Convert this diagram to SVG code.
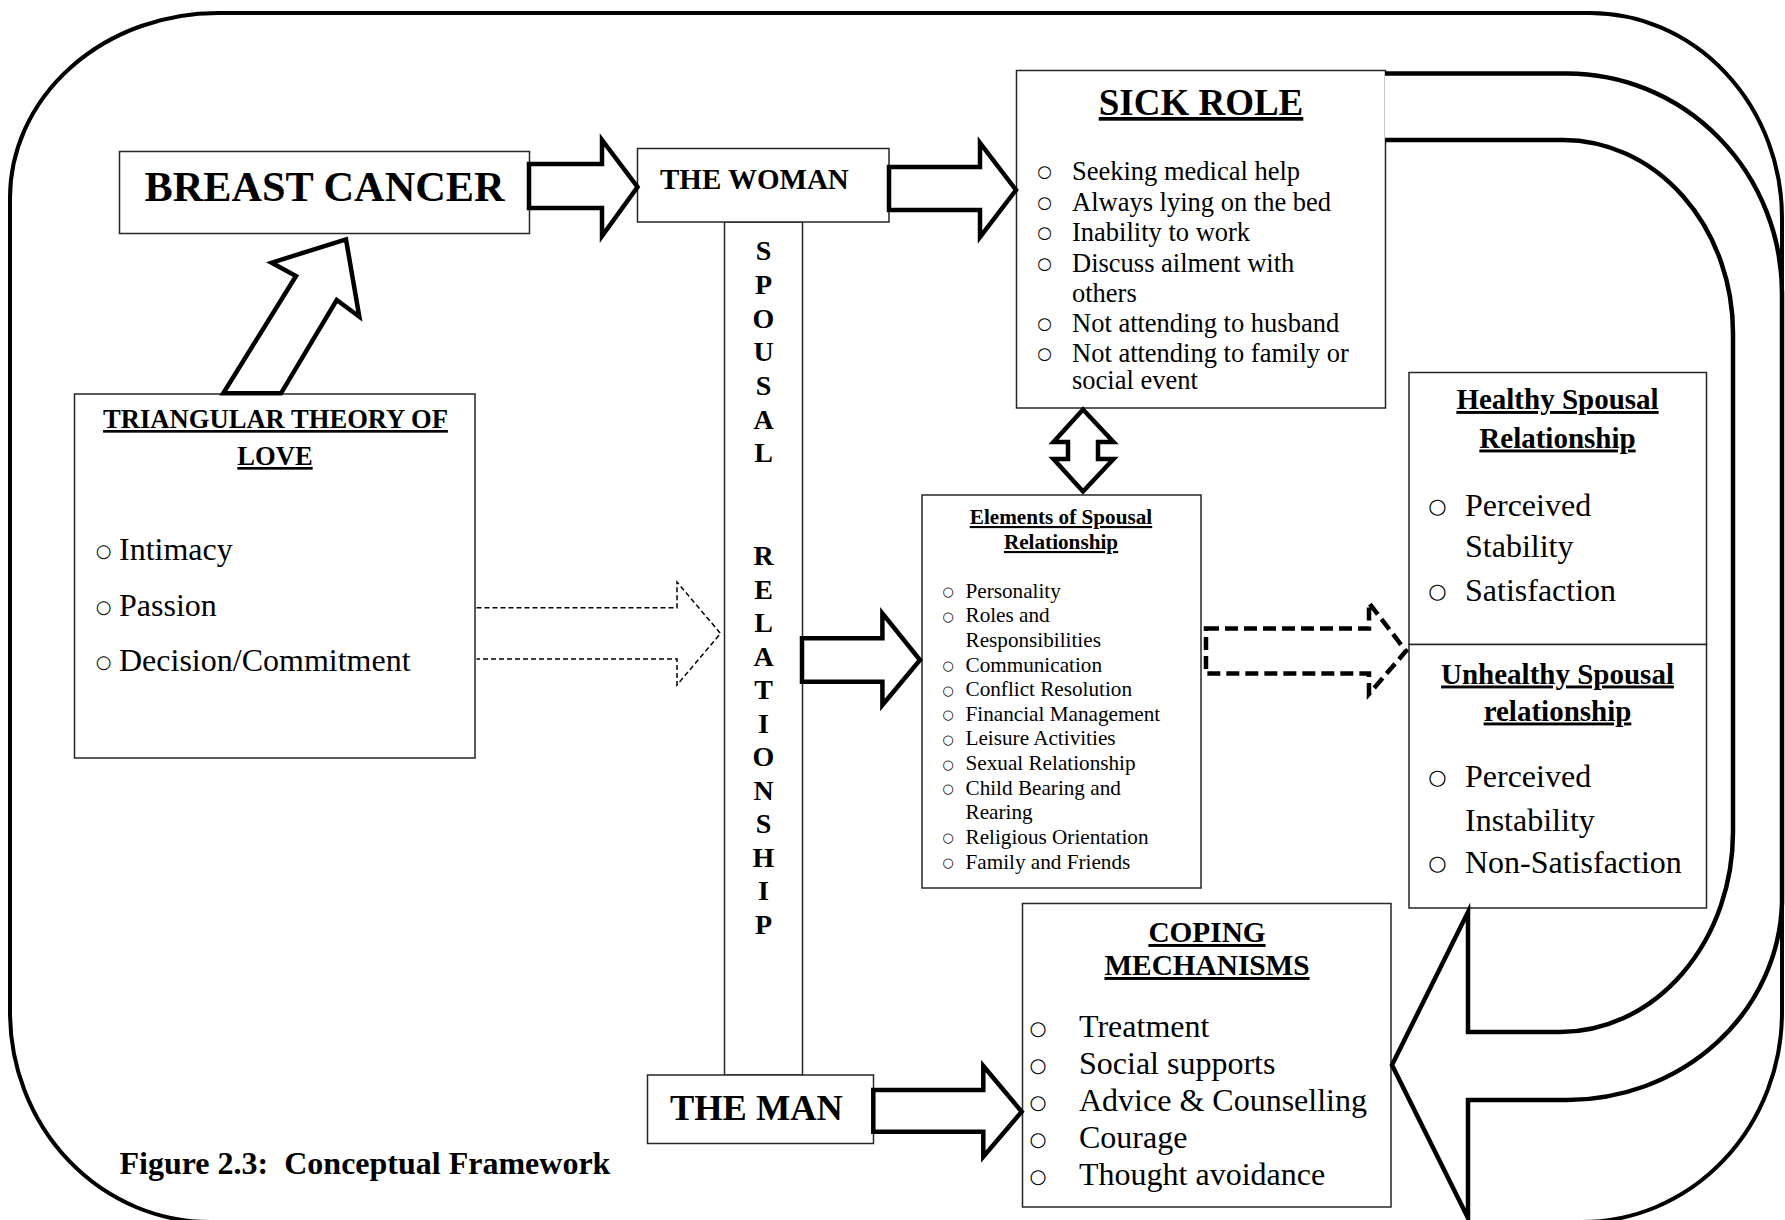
<svg xmlns="http://www.w3.org/2000/svg" width="1785" height="1220" viewBox="0 0 1785 1220">
<defs>
<style>
.t{font-family:"Liberation Serif","Times New Roman",serif;fill:#000}
.b{font-weight:bold}
.u{text-decoration:underline}
.m{text-anchor:middle}
.o{font-family:"DejaVu Sans",sans-serif;fill:#000;text-anchor:middle}
.box{fill:#fff;stroke:#262626;stroke-width:1.5}
.blk{fill:#fff;stroke:#000;stroke-width:4.5;stroke-linejoin:miter;stroke-miterlimit:10}
.frame{fill:none;stroke:#000;stroke-width:4}
.dash1{fill:none;stroke:#000;stroke-width:1.5;stroke-dasharray:5 3}
.dash2{fill:#fff;stroke:#000;stroke-width:4.5;stroke-dasharray:13 6}
</style>
</defs>
<rect width="1785" height="1220" fill="#fff"/>

<g id="frame">
<path class="frame" d="M218,13 H1590 A192,205 0 0 1 1782,218 V1012 A200,210 0 0 1 1582,1222 H210 A200,210 0 0 1 10,1012 V198 A208,185 0 0 1 218,13 Z"/>
</g>

<g id="spousal-relationship">
<rect class="box" x="724.5" y="222" width="78" height="853"/>
<g class="t b m" font-size="28">
<text x="763.5" y="260">S</text>
<text x="763.5" y="294">P</text>
<text x="763.5" y="327.5">O</text>
<text x="763.5" y="361">U</text>
<text x="763.5" y="395">S</text>
<text x="763.5" y="428.5">A</text>
<text x="763.5" y="462">L</text>
<text x="763.5" y="565">R</text>
<text x="763.5" y="598.5">E</text>
<text x="763.5" y="632">L</text>
<text x="763.5" y="665.5">A</text>
<text x="763.5" y="699">T</text>
<text x="763.5" y="732.5">I</text>
<text x="763.5" y="766">O</text>
<text x="763.5" y="799.5">N</text>
<text x="763.5" y="833">S</text>
<text x="763.5" y="866.5">H</text>
<text x="763.5" y="900">I</text>
<text x="763.5" y="934">P</text>
</g>
</g>

<g id="breast-cancer">
<rect class="box" x="119.5" y="151.5" width="410" height="82"/>
<text class="t b m" x="324.5" y="201" font-size="42.3">BREAST CANCER</text>
</g>

<g id="the-woman">
<rect class="box" x="637.5" y="148.5" width="251.5" height="73.5"/>
<text class="t b" x="660" y="189" font-size="29">THE WOMAN</text>
</g>

<g id="sick-role">
<rect class="box" x="1016.5" y="70.5" width="369" height="337.5"/>
<text class="t b u m" x="1201" y="115" font-size="37">SICK ROLE</text>
<g class="o" font-size="16.5">
<text x="1044.5" y="177">○</text>
<text x="1044.5" y="207.5">○</text>
<text x="1044.5" y="238">○</text>
<text x="1044.5" y="268.5">○</text>
<text x="1044.5" y="329">○</text>
<text x="1044.5" y="359">○</text>
</g>
<g class="t" font-size="26.5">
<text x="1072" y="180">Seeking medical help</text>
<text x="1072" y="210.5">Always lying on the bed</text>
<text x="1072" y="241">Inability to work</text>
<text x="1072" y="271.5">Discuss ailment with</text>
<text x="1072" y="302">others</text>
<text x="1072" y="332">Not attending to husband</text>
<text x="1072" y="362">Not attending to family or</text>
<text x="1072" y="388.5">social event</text>
</g>
</g>

<g id="triangular-theory">
<rect class="box" x="74.5" y="394" width="400.5" height="364"/>
<text class="t b u m" x="275.5" y="428" font-size="26.6">TRIANGULAR THEORY OF</text>
<text class="t b u m" x="275" y="465" font-size="26.6">LOVE</text>
<g class="o" font-size="18">
<text x="103.5" y="557">○</text>
<text x="103.5" y="612.5">○</text>
<text x="103.5" y="668">○</text>
</g>
<g class="t" font-size="32">
<text x="119" y="560">Intimacy</text>
<text x="119" y="615.5">Passion</text>
<text x="119" y="671">Decision/Commitment</text>
</g>
</g>

<g id="elements-of-spousal-relationship">
<rect class="box" x="922" y="495" width="279" height="393"/>
<text class="t b u m" x="1061" y="524" font-size="21.2">Elements of Spousal</text>
<text class="t b u m" x="1061" y="549" font-size="21.2">Relationship</text>
<g class="o" font-size="13">
<text x="948" y="596">○</text>
<text x="948" y="620.5">○</text>
<text x="948" y="670">○</text>
<text x="948" y="694.5">○</text>
<text x="948" y="719">○</text>
<text x="948" y="743.5">○</text>
<text x="948" y="768.5">○</text>
<text x="948" y="793">○</text>
<text x="948" y="842">○</text>
<text x="948" y="867">○</text>
</g>
<g class="t" font-size="21.2">
<text x="965.5" y="597.5">Personality</text>
<text x="965.5" y="622">Roles and</text>
<text x="965.5" y="646.5">Responsibilities</text>
<text x="965.5" y="671.5">Communication</text>
<text x="965.5" y="696">Conflict Resolution</text>
<text x="965.5" y="720.5">Financial Management</text>
<text x="965.5" y="745">Leisure Activities</text>
<text x="965.5" y="770">Sexual Relationship</text>
<text x="965.5" y="794.5">Child Bearing and</text>
<text x="965.5" y="819">Rearing</text>
<text x="965.5" y="843.5">Religious Orientation</text>
<text x="965.5" y="868.5">Family and Friends</text>
</g>
</g>

<g id="healthy-spousal-relationship">
<rect class="box" x="1409" y="372.5" width="297.5" height="272"/>
<text class="t b u m" x="1557.5" y="409" font-size="29">Healthy Spousal</text>
<text class="t b u m" x="1557.5" y="447.5" font-size="29">Relationship</text>
<g class="o" font-size="21">
<text x="1437.5" y="512.5">○</text>
<text x="1437.5" y="597.5">○</text>
</g>
<g class="t" font-size="32">
<text x="1465" y="515.5">Perceived</text>
<text x="1465" y="557">Stability</text>
<text x="1465" y="600.5">Satisfaction</text>
</g>
</g>

<g id="unhealthy-spousal-relationship">
<rect class="box" x="1409" y="644.5" width="297.5" height="263.5"/>
<text class="t b u m" x="1557.5" y="683.5" font-size="29">Unhealthy Spousal</text>
<text class="t b u m" x="1557.5" y="720.5" font-size="29">relationship</text>
<g class="o" font-size="21">
<text x="1437.5" y="784">○</text>
<text x="1437.5" y="869.5">○</text>
</g>
<g class="t" font-size="32">
<text x="1465" y="787">Perceived</text>
<text x="1465" y="831">Instability</text>
<text x="1465" y="872.5">Non-Satisfaction</text>
</g>
</g>

<g id="coping-mechanisms">
<rect class="box" x="1022.5" y="903.5" width="368.5" height="303.5"/>
<text class="t b u m" x="1207" y="942" font-size="29.3">COPING</text>
<text class="t b u m" x="1207" y="975" font-size="29.3">MECHANISMS</text>
<g class="o" font-size="19.5">
<text x="1038" y="1034.5">○</text>
<text x="1038" y="1071.5">○</text>
<text x="1038" y="1108.5">○</text>
<text x="1038" y="1145.5">○</text>
<text x="1038" y="1182.5">○</text>
</g>
<g class="t" font-size="32">
<text x="1079" y="1037">Treatment</text>
<text x="1079" y="1074">Social supports</text>
<text x="1079" y="1111">Advice &amp; Counselling</text>
<text x="1079" y="1148">Courage</text>
<text x="1079" y="1185">Thought avoidance</text>
</g>
</g>

<g id="the-man">
<rect class="box" x="647.5" y="1075" width="226" height="68.5"/>
<text class="t b" x="670" y="1120" font-size="36.4">THE MAN</text>
</g>

<text id="caption" class="t b" x="119.5" y="1174" font-size="32" xml:space="preserve">Figure 2.3:  Conceptual Framework</text>

<g id="connectors">
<polygon class="blk" points="529,164 602,164 602,140 637.5,187 602,236 602,208 529,208"/>
<polygon class="blk" points="889,167 980,167 980,143 1016,190 980,237 980,210 889,210"/>
<polygon class="blk" stroke-width="4" points="223.3,393.3 296,276 271.7,262.7 346,239.3 359.3,316.7 336.7,300 281,393.3"/>
<path class="dash1" d="M476.5,607.7 H677 V582 L720.5,633.5 L677,685 V659 H476.5"/>
<polygon class="blk" points="802,638.3 882.4,638.3 882.4,613.3 920,660 882.4,705 882.4,681.7 802,681.7"/>
<polygon class="blk" stroke-width="4" points="1083,409.5 1113.5,442 1098,442 1098,459 1113.5,459 1083,491.5 1053.5,459 1068,459 1068,442 1053.5,442"/>
<path class="dash2" d="M1206,628.6 H1369 V603 L1406,651 L1369,694 V673.6 H1206 Z"/>
<polygon class="blk" points="873.3,1090 983.3,1090 983.3,1066 1021.7,1111.7 983.3,1156.7 983.3,1131.7 873.3,1131.7"/>
<path class="blk" d="M1385,73.5 H1567 A215,220 0 0 1 1782,293 V903 A215,203 0 0 1 1567,1100 H1468 V1218 L1392,1065 L1468,912 V1032 H1560 A173,200 0 0 0 1733,832 V333 A170,193 0 0 0 1563,140 H1385"/>
</g>
</svg>
